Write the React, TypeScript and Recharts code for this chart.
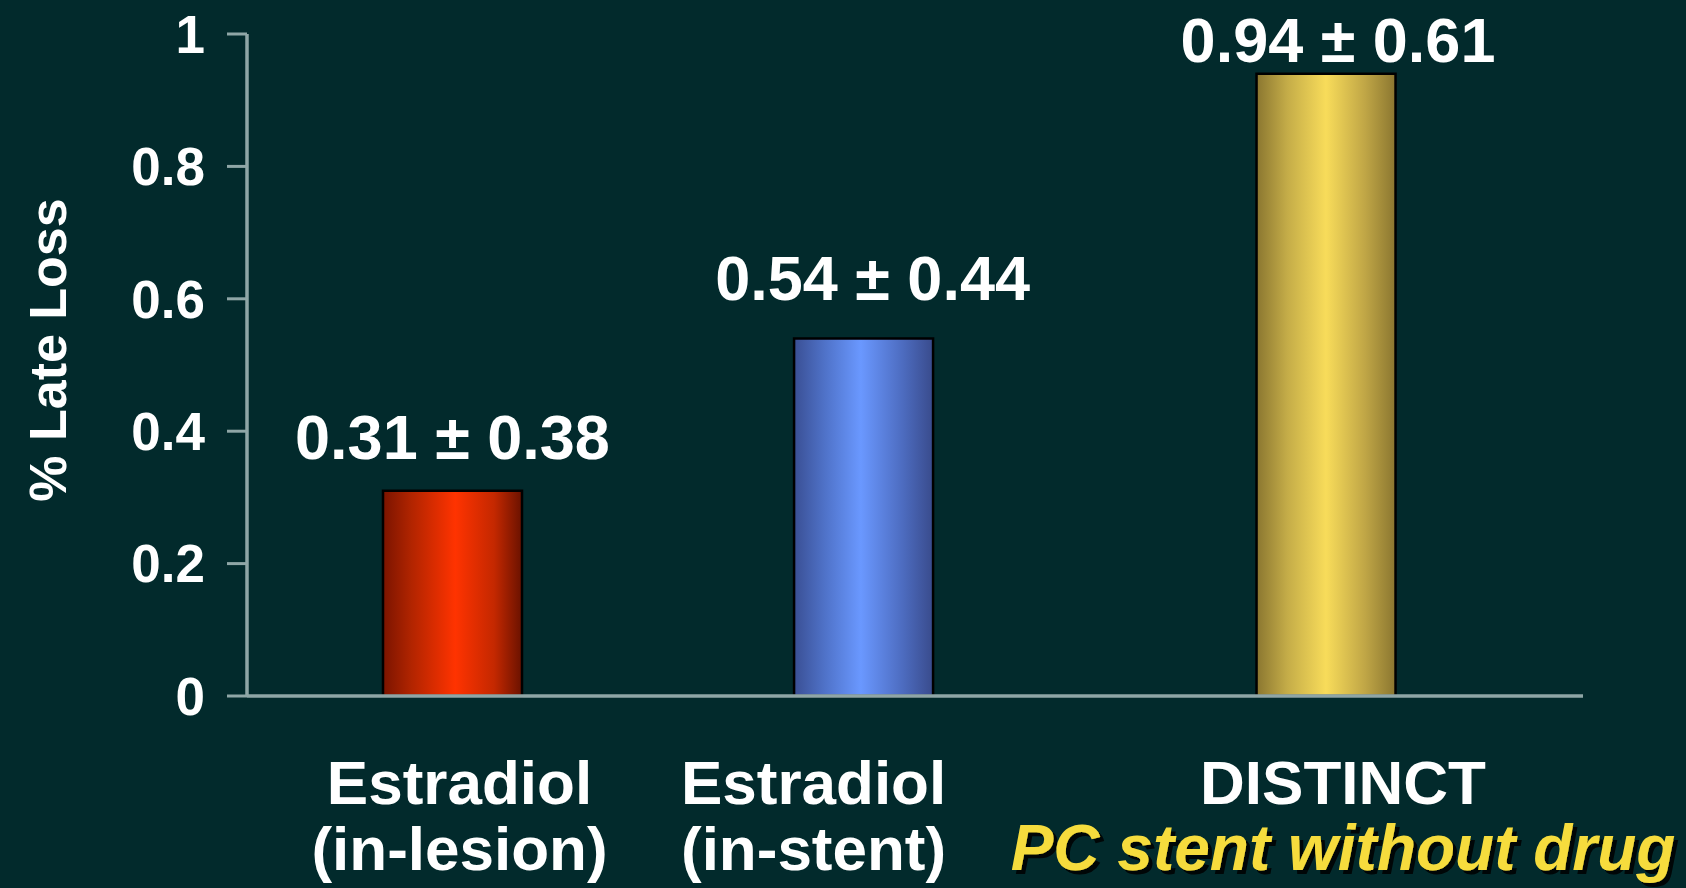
import { BarChart, Bar, XAxis, YAxis, Cell, LabelList } from 'recharts';

const categories = ['Estradiol', 'Estradiol', 'DISTINCT'];
const subLabels = ['(in-lesion)', '(in-stent)', 'PC stent without drug'];
const lateLoss = [0.31, 0.54, 0.94];
const lateLossSD = [0.38, 0.44, 0.61];
const yTicks = [0, 0.2, 0.4, 0.6, 0.8, 1];

// layout: the three groups are not equally wide on the original slide
const bandWeights = [4, 4, 5];
const labelShift = [7, -50, 17];
const valueShift = [0, 9, 12];
const valueGap = [32, 39, 12];

const BG = '#022a2c';
const AXIS = '#8fa6a6';
const FONT = '"Liberation Sans", Arial, sans-serif';
const gradIds = ['gRed', 'gBlue', 'gYellow'];

const bounds = bandWeights.reduce<number[]>((acc, w) => [...acc, acc[acc.length - 1] + w], [0]);
const data = categories.map((name, i) => ({
  idx: i,
  pos: (bounds[i] + bounds[i + 1]) / 2,
  value: lateLoss[i],
  sd: lateLossSD[i],
}));

function ValueLabel(props: any) {
  const { x, y, width, value } = props;
  const i = value as number;
  return (
    <text
      x={x + width / 2 + valueShift[i]}
      y={y - valueGap[i]}
      textAnchor="middle"
      fill="#fff"
      fontFamily={FONT}
      fontWeight="bold"
      fontSize={63}
    >
      {`${lateLoss[i].toFixed(2)} ± ${lateLossSD[i].toFixed(2)}`}
    </text>
  );
}

function CategoryLabel(props: any) {
  const { x, y, width, height, value } = props;
  const i = value as number;
  const cx = x + width / 2 + labelShift[i];
  const base = y + height;
  const last = i === categories.length - 1;
  return (
    <g fontFamily={FONT} fontWeight="bold" fontSize={62} textAnchor="middle">
      <text x={cx} y={base + 108} fill="#fff">{categories[i]}</text>
      <text
        x={cx}
        y={base + 174}
        fill={last ? '#f6dc3c' : '#fff'}
        fontStyle={last ? 'italic' : 'normal'}
        fontSize={last ? 64 : 62}
        filter={last ? 'url(#textShadow)' : undefined}
      >
        {subLabels[i]}
      </text>
    </g>
  );
}

function YTitle(props: any) {
  const { viewBox } = props;
  const cx = viewBox.x + 48;
  const cy = viewBox.y + viewBox.height / 2 - 15;
  return (
    <text
      x={cx}
      y={cy}
      transform={`rotate(-90, ${cx}, ${cy})`}
      textAnchor="middle"
      dominantBaseline="central"
      fill="#fff"
      fontFamily={FONT}
      fontWeight="bold"
      fontSize={52}
    >
      % Late Loss
    </text>
  );
}

export default function App() {
  return (
    <div style={{ position: 'absolute', left: 0, top: 0, width: 1686, height: 888, background: BG }}>
      <BarChart width={1686} height={888} data={data} margin={{ top: 34, right: 103, bottom: 172, left: 0 }}>
        <defs>
          <filter id="textShadow" x="-5%" y="-20%" width="110%" height="140%">
            <feDropShadow dx="4" dy="4" stdDeviation="0.5" floodColor="#000" floodOpacity="0.85" />
          </filter>
          <linearGradient id="gRed" x1="0" y1="0" x2="1" y2="0">
            <stop offset="0%" stopColor="#7a1400" />
            <stop offset="20%" stopColor="#b02400" />
            <stop offset="52%" stopColor="#ff3300" />
            <stop offset="80%" stopColor="#c42800" />
            <stop offset="100%" stopColor="#6a1200" />
          </linearGradient>
          <linearGradient id="gBlue" x1="0" y1="0" x2="1" y2="0">
            <stop offset="0%" stopColor="#3a4f94" />
            <stop offset="22%" stopColor="#4f72c8" />
            <stop offset="48%" stopColor="#6a98ff" />
            <stop offset="78%" stopColor="#4d6cc0" />
            <stop offset="100%" stopColor="#394b8c" />
          </linearGradient>
          <linearGradient id="gYellow" x1="0" y1="0" x2="1" y2="0">
            <stop offset="0%" stopColor="#8a7630" />
            <stop offset="22%" stopColor="#c4ac48" />
            <stop offset="50%" stopColor="#f8dc5a" />
            <stop offset="78%" stopColor="#c0a646" />
            <stop offset="100%" stopColor="#8a7630" />
          </linearGradient>
        </defs>
        <XAxis
          dataKey="pos"
          type="number"
          domain={[0, bounds[bounds.length - 1]]}
          ticks={bounds}
          tick={false}
          tickSize={14}
          height={20}
          axisLine={{ stroke: AXIS, strokeWidth: 3.5 }}
          tickLine={{ stroke: AXIS, strokeWidth: 3 }}
        />
        <YAxis
          domain={[0, 1]}
          ticks={yTicks}
          width={247}
          tickSize={20}
          tickMargin={22}
          axisLine={{ stroke: AXIS, strokeWidth: 3.5 }}
          tickLine={{ stroke: AXIS, strokeWidth: 3 }}
          tick={{ fill: '#fff', fontSize: 53, fontWeight: 'bold', fontFamily: FONT }}
          label={{ content: YTitle }}
        />
        <Bar dataKey="value" barSize={139} stroke="#000" strokeWidth={2.5} isAnimationActive={false}>
          {data.map((d, i) => (
            <Cell key={d.idx} fill={`url(#${gradIds[i]})`} />
          ))}
          <LabelList dataKey="idx" content={ValueLabel} />
          <LabelList dataKey="idx" content={CategoryLabel} />
        </Bar>
      </BarChart>
    </div>
  );
}
